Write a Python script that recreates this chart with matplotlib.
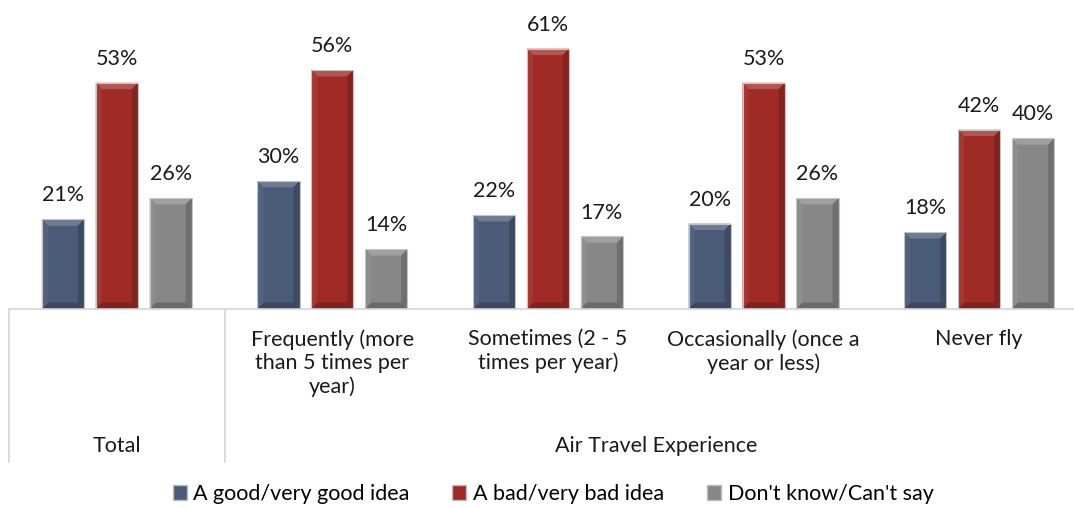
import matplotlib
matplotlib.use("Agg")
import matplotlib.pyplot as plt
import matplotlib.transforms as mtransforms
from matplotlib.patches import Polygon, Patch
from matplotlib.lines import Line2D
import numpy as np

plt.rcParams['font.family'] = ['Lato', 'DejaVu Sans']

# data
groups = ['', 'Frequently (more\nthan 5 times per\nyear)', 'Sometimes (2 - 5\ntimes per year)',
          'Occasionally (once a\nyear or less)', 'Never fly']
series = ['A good/very good idea', 'A bad/very bad idea', "Don't know/Can't say"]
good = [21, 30, 22, 20, 18]
bad = [53, 56, 61, 53, 42]
dont_know = [26, 14, 17, 26, 40]
values = [good, bad, dont_know]
colors = ['#4a5b78', '#a02b26', '#878787']

W, H = 1074, 508
FS = 15.5
fig = plt.figure(figsize=(W / 100, H / 100), dpi=100)
ax = fig.add_axes([9 / W, (H - 309) / H, 1078 / W, 309 / H])
ax.set_xlim(-0.5, 4.5)
ax.set_ylim(0, 72.4)
ax.axis('off')


def shade(c, f):
    c = np.array(matplotlib.colors.to_rgb(c))
    if f > 0:
        return tuple(c + (1 - c) * f)
    return tuple(c * (1 + f))


bw = 0.195
offs = [-0.25, 0, 0.25]
bx = 0.028
by = 1.5
for s in range(3):
    for g in range(5):
        v = values[s][g]
        x0 = g + offs[s] - bw / 2
        x1 = x0 + bw
        col = colors[s]
        ax.add_patch(Polygon([(x0, 0), (x1, 0), (x1, v), (x0, v)], closed=True,
                             facecolor=col, edgecolor='none', zorder=2))
        # bevel faces
        ax.add_patch(Polygon([(x0, v), (x1, v), (x1 - bx, v - by), (x0 + bx, v - by)],
                             facecolor=shade(col, 0.2), edgecolor='none', zorder=3))
        ax.add_patch(Polygon([(x0, 0), (x0, v), (x0 + bx, v - by), (x0 + bx, by)],
                             facecolor=shade(col, 0.05), edgecolor='none', zorder=3))
        ax.add_patch(Polygon([(x1, 0), (x1, v), (x1 - bx, v - by), (x1 - bx, by)],
                             facecolor=shade(col, -0.18), edgecolor='none', zorder=3))
        ax.add_patch(Polygon([(x0, 0), (x1, 0), (x1 - bx, by), (x0 + bx, by)],
                             facecolor=shade(col, -0.22), edgecolor='none', zorder=3))
        ax.add_patch(Polygon([(x0, 0), (x1, 0), (x1, v), (x0, v)], closed=True,
                             facecolor='none', edgecolor='#c4c4c4', linewidth=0.8, zorder=4))
        ax.annotate(f'{v}%', (g + offs[s], v), xytext=(0, 10), textcoords='offset points',
                    ha='center', va='bottom', fontsize=FS, color='#1a1a1a')

# category axis
tr = mtransforms.blended_transform_factory(ax.transData, fig.transFigure)
line_col = '#d4d4d4'
fig.add_artist(Line2D([-0.5, 5], [(H - 309) / H] * 2, transform=tr, color=line_col, lw=1.2))
for xv in [-0.5, 0.5]:
    fig.add_artist(Line2D([xv, xv], [(H - 309) / H, (H - 462) / H], transform=tr,
                          color=line_col, lw=1.2))
for g in range(1, 5):
    fig.text(g, (H - 329) / H, groups[g], transform=tr, ha='center', va='top',
             fontsize=FS, linespacing=1.2, color='#1a1a1a')
fig.text(0, (H - 446) / H, 'Total', transform=tr, ha='center', va='center',
         fontsize=FS, color='#1a1a1a')
fig.text(2.5, (H - 446) / H, 'Air Travel Experience', transform=tr, ha='center', va='center',
         fontsize=FS, color='#1a1a1a')

handles = [Patch(facecolor=colors[i], edgecolor='#bdbdbd', label=series[i]) for i in range(3)]
fig.legend(handles=handles, loc='center', bbox_to_anchor=(553 / W, (H - 494) / H), ncol=3,
           frameon=False, fontsize=FS, handlelength=0.65, handleheight=0.65,
           handletextpad=0.3, columnspacing=2.0)

fig.savefig('out.png', dpi=100)
